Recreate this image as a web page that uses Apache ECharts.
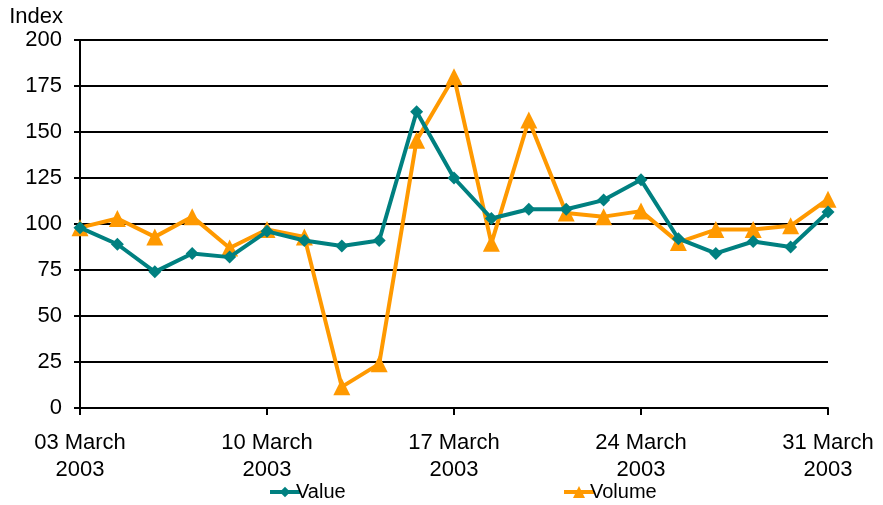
<!DOCTYPE html>
<html>
<head>
<meta charset="utf-8">
<script src="https://cdn.jsdelivr.net/npm/echarts@6/dist/echarts.min.js"></script>
<style>
html,body{margin:0;padding:0;background:#fff;}
#main{width:883px;height:505px;}
</style>
</head>
<body>
<div id="main"></div>
<script>
var categories = ["03 March 2003","04 March 2003","05 March 2003","06 March 2003","07 March 2003",
  "10 March 2003","11 March 2003","12 March 2003","13 March 2003","14 March 2003",
  "17 March 2003","18 March 2003","19 March 2003","20 March 2003","21 March 2003",
  "24 March 2003","25 March 2003","26 March 2003","27 March 2003","28 March 2003",
  "31 March 2003"];
var valueSeries = [98, 89, 74, 84, 82, 96, 91, 88, 91, 161, 125, 103, 108, 108, 113, 124, 92, 84, 90.5, 87.5, 106.5];
var volumeSeries = [98, 103, 93, 104, 87, 97, 93, 11.5, 24, 145.5, 180, 89.5, 156.5, 106, 104, 107, 90, 97, 97, 99, 113.5];
var yTicks = [0, 25, 50, 75, 100, 125, 150, 175, 200];

var font = "Liberation Sans, Arial, sans-serif";
var chart = echarts.init(document.getElementById('main'), null, {renderer: 'canvas'});
chart.setOption({
  animation: false,
  backgroundColor: '#ffffff',
  grid: {left: 80, right: 55, top: 40, bottom: 97, containLabel: false},
  legend: [
    {data: ['Value'], left: 263, top: 477, itemWidth: 30, itemHeight: 13, itemGap: 2,
     lineStyle: {width: 4},
     textStyle: {fontFamily: font, fontSize: 20, color: '#000', padding: [0,0,0,-9]}},
    {data: ['Volume'], left: 557, top: 477, itemWidth: 30, itemHeight: 15, itemGap: 2,
     lineStyle: {width: 4},
     textStyle: {fontFamily: font, fontSize: 20, color: '#000', padding: [0,0,0,-9]}}
  ],
  xAxis: {
    type: 'category',
    data: categories,
    boundaryGap: false,
    axisLine: {lineStyle: {color: '#000', width: 2}},
    axisTick: {show: true, interval: 4, length: 7, lineStyle: {color: '#000', width: 2}},
    axisLabel: {
      interval: 4, margin: 21, color: '#000', fontFamily: font, fontSize: 22, lineHeight: 27,
      formatter: function (v) { var p = v.split(' '); return p[0] + ' ' + p[1] + '\n' + p[2]; }
    },
    splitLine: {show: false}
  },
  yAxis: {
    type: 'value',
    min: yTicks[0], max: yTicks[yTicks.length - 1], interval: 25,
    name: 'Index',
    nameLocation: 'end',
    nameGap: 12,
    nameTextStyle: {fontFamily: font, fontSize: 22, color: '#000', align: 'right', padding: [0, 17, 0, 0]},
    axisLine: {show: true, lineStyle: {color: '#000', width: 2}},
    axisTick: {show: true, length: 6, lineStyle: {color: '#000', width: 2}},
    axisLabel: {margin: 18, color: '#000', fontFamily: font, fontSize: 22},
    splitLine: {show: true, lineStyle: {color: '#000', width: 2}}
  },
  series: [
    {name: 'Value', type: 'line', data: valueSeries, symbol: 'diamond', symbolSize: 13,
     lineStyle: {color: '#008080', width: 4}, itemStyle: {color: '#008080'}, z: 3},
    {name: 'Volume', type: 'line', data: volumeSeries, symbol: 'triangle', symbolSize: 17,
     lineStyle: {color: '#FF9900', width: 4}, itemStyle: {color: '#FF9900'}, z: 2}
  ]
});
</script>
</body>
</html>
